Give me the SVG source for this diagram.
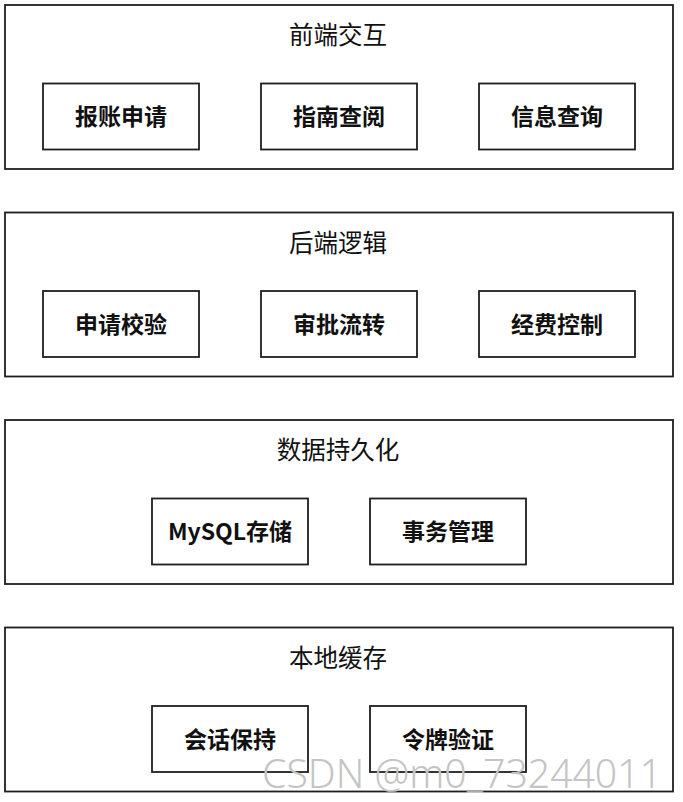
<svg xmlns="http://www.w3.org/2000/svg" width="683" height="802" viewBox="0 0 683 802">
<style>
.outer{fill:#fff;stroke:#1e1e1e;stroke-width:1.8}
.inner{fill:#fff;stroke:#1e1e1e;stroke-width:1.8}
.title{font-family:"Noto Sans CJK SC","Noto Sans",sans-serif;font-size:24.5px;fill:#111;text-anchor:middle}
.label{font-family:"Noto Sans CJK SC","Noto Sans",sans-serif;font-size:23px;font-weight:bold;fill:#111;text-anchor:middle}
.wm{font-family:"Noto Sans","Liberation Sans",sans-serif;font-size:40px;font-weight:300;fill:#c4c4c4}
</style>
<rect width="683" height="802" fill="#fff"/>
<g id="layer-frontend">
<rect class="outer" x="5" y="5" width="668" height="164"/>
<text class="title" x="338" y="44">前端交互</text>
<g id="node-baozhang"><rect class="inner" x="43" y="83.5" width="156" height="66"/><text class="label" x="121" y="125">报账申请</text></g>
<g id="node-zhinan"><rect class="inner" x="261" y="83.5" width="156" height="66"/><text class="label" x="339" y="125">指南查阅</text></g>
<g id="node-xinxi"><rect class="inner" x="479" y="83.5" width="156" height="66"/><text class="label" x="557" y="125">信息查询</text></g>
</g>
<g id="layer-backend">
<rect class="outer" x="5" y="212.5" width="668" height="164"/>
<text class="title" x="338" y="251.5">后端逻辑</text>
<g id="node-jiaoyan"><rect class="inner" x="43" y="291" width="156" height="66"/><text class="label" x="121" y="332.5">申请校验</text></g>
<g id="node-shenpi"><rect class="inner" x="261" y="291" width="156" height="66"/><text class="label" x="339" y="332.5">审批流转</text></g>
<g id="node-jingfei"><rect class="inner" x="479" y="291" width="156" height="66"/><text class="label" x="557" y="332.5">经费控制</text></g>
</g>
<g id="layer-persistence">
<rect class="outer" x="5" y="420" width="668" height="164"/>
<text class="title" x="338" y="459">数据持久化</text>
<g id="node-mysql"><rect class="inner" x="152" y="498.5" width="156" height="66"/><text class="label" x="230" y="540">MySQL存储</text></g>
<g id="node-shiwu"><rect class="inner" x="370" y="498.5" width="156" height="66"/><text class="label" x="448" y="540">事务管理</text></g>
</g>
<g id="layer-cache">
<rect class="outer" x="5" y="627.5" width="668" height="164"/>
<text class="title" x="338" y="666.5">本地缓存</text>
<g id="node-huihua"><rect class="inner" x="152" y="706" width="156" height="66"/><text class="label" x="230" y="747.5">会话保持</text></g>
<g id="node-lingpai"><rect class="inner" x="370" y="706" width="156" height="66"/><text class="label" x="448" y="747.5">令牌验证</text></g>
</g>
<g id="connectors"></g>
<text class="wm" x="262" y="788" textLength="400" lengthAdjust="spacingAndGlyphs">CSDN @m0_73244011</text>
</svg>
